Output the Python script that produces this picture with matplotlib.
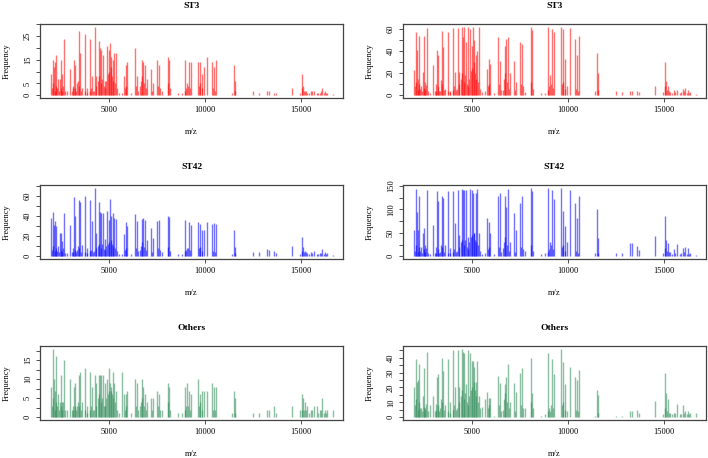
import matplotlib
matplotlib.use("Agg")
import matplotlib.pyplot as plt
import numpy as np

plt.rcParams['font.family'] = ['Liberation Serif', 'DejaVu Serif']

# ---- data: shared peak positions (m/z) ----
mz_major = [2014, 2083, 2153, 2205, 2274, 2344, 2448, 2517, 2587, 2656,
            2830, 2986, 3125, 3195, 3264, 3351, 3438, 3490, 3611, 3785,
            3889, 4045, 4132, 4306, 4358, 4479, 4549, 4618, 4688, 4826,
            4913, 4983, 5052, 5122, 5208, 5278, 5365, 5538, 5694, 5781,
            5868, 5955, 6128, 6354, 6476, 6597, 6719, 6788, 6875, 6962,
            7170, 7309, 7517, 7604, 7778, 8055, 8125, 8594, 8819, 8976,
            9080, 9184, 9271, 9653, 9722, 9826, 9948, 10121, 10364, 10451,
            10590, 11423, 11510, 11562, 12500, 12812, 13229, 13333, 13576, 13680,
            14548, 14947, 15034, 15103, 15190, 15329, 15503, 15677, 15850, 15989,
            16110, 16232, 16371, 16666]

mz_minor = [2040, 2120, 2180, 2240, 2310, 2400, 2490, 2560, 2620, 2720,
            3060, 3160, 3230, 3310, 3400, 3470, 3560, 3740, 3840,
            4000, 4090, 4180, 4250, 4340, 4420, 4510, 4580, 4650, 4730,
            4790, 4870, 4950, 5020, 5090, 5160, 5240, 5320, 5420,
            5820, 5910,
            6400, 6520, 6680, 6750, 6830, 6920,
            7220, 7560, 7650,
            8080, 8160,
            8950, 9030, 9130, 9230,
            9680, 9760, 9860,
            10400, 10530,
            11540,
            15070, 15150, 15260, 15420, 15590, 15900, 16060, 16180, 16300]

# ---- ST3 ----
st3_left_major = [9, 15, 12, 14, 17, 7, 7, 15, 9, 24,
                  2, 11, 3, 15, 13, 5, 27, 18, 3, 26,
                  3, 24, 8, 29, 8, 23, 20, 19, 17, 6,
                  21, 19, 22, 16, 15, 18, 18, 1, 1, 8,
                  13, 14, 1, 20, 8, 4, 15, 14, 13, 7,
                  11, 5, 15, 13, 2, 16, 15, 1, 1, 15,
                  5, 14, 14, 14, 14, 9, 12, 16, 14, 12,
                  15, 1, 13, 6, 2, 1, 2, 2, 1, 1,
                  3, 1, 9, 4, 2, 1, 2, 2, 1, 1,
                  3, 2, 1, 0.5]
st3_left_minor = [3, 5, 2, 4, 3, 2, 3, 2, 4, 2,
                  2, 4, 3, 2, 6, 4, 2, 2, 1,
                  2, 3, 2, 2, 4, 6, 8, 5, 7, 4,
                  3, 6, 9, 10, 12, 8, 6, 5, 3,
                  3, 4,
                  4, 2, 6, 8, 5, 3,
                  2, 4, 3,
                  5, 3,
                  2, 3, 4, 3,
                  4, 5, 3,
                  3, 2,
                  2,
                  3, 2, 2, 1, 2, 1, 2, 1, 1]
st3_right_major = [23, 57, 41, 15, 54, 8, 21, 54, 12, 61,
                   2, 27, 4, 41, 36, 4, 58, 44, 6, 57,
                   4, 61, 21, 61, 21, 62, 53, 62, 48, 62,
                   60, 45, 62, 50, 36, 40, 62, 3, 4, 24,
                   33, 28, 2, 53, 31, 5, 45, 51, 53, 20,
                   31, 12, 48, 46, 3, 62, 59, 2, 2, 62,
                   18, 60, 57, 62, 60, 33, 8, 61, 51, 36,
                   54, 4, 38, 20, 4, 3, 4, 4, 4, 3,
                   8, 3, 30, 13, 8, 3, 5, 5, 2, 6,
                   7, 5, 3, 1]
st3_right_minor = [8, 12, 5, 10, 6, 4, 7, 5, 9, 4,
                   4, 10, 8, 4, 14, 10, 5, 4, 3,
                   5, 8, 5, 6, 10, 15, 20, 12, 18, 10,
                   8, 15, 22, 25, 30, 20, 15, 12, 6,
                   8, 10,
                   10, 5, 15, 20, 12, 6,
                   5, 10, 8,
                   12, 6,
                   5, 8, 10, 7,
                   10, 12, 6,
                   6, 4,
                   5,
                   8, 5, 4, 2, 3, 3, 4, 2, 2]

# ---- ST42 ----
st42_left_major = [38, 44, 31, 35, 30, 10, 23, 23, 15, 43,
                   3, 31, 4, 59, 40, 6, 56, 54, 11, 60,
                   8, 56, 35, 68, 23, 54, 44, 43, 43, 17,
                   45, 36, 57, 40, 43, 38, 37, 2, 2, 22,
                   34, 30, 2, 42, 35, 6, 37, 38, 36, 16,
                   28, 18, 35, 36, 4, 40, 39, 2, 2, 36,
                   8, 34, 31, 34, 32, 26, 26, 34, 32, 33,
                   32, 2, 26, 9, 4, 4, 7, 6, 5, 3,
                   10, 2, 19, 9, 5, 3, 4, 5, 2, 3,
                   7, 4, 3, 1]
st42_left_minor = [6, 10, 5, 8, 5, 4, 6, 4, 8, 3,
                   4, 8, 6, 4, 10, 8, 4, 4, 3,
                   5, 6, 4, 5, 8, 10, 12, 8, 12, 7,
                   6, 10, 12, 14, 16, 12, 10, 8, 5,
                   6, 8,
                   8, 5, 10, 14, 9, 6,
                   4, 8, 6,
                   9, 5,
                   5, 6, 8, 6,
                   8, 9, 5,
                   5, 4,
                   3,
                   5, 4, 4, 2, 3, 2, 3, 2, 2]
st42_right_major = [57, 144, 95, 56, 128, 20, 49, 60, 25, 141,
                    4, 67, 8, 139, 117, 10, 129, 125, 24, 139,
                    18, 139, 71, 142, 45, 144, 142, 142, 142, 40,
                    144, 142, 135, 50, 135, 144, 49, 5, 8, 81,
                    72, 49, 5, 128, 135, 18, 128, 106, 144, 30,
                    92, 56, 114, 128, 12, 146, 140, 5, 8, 146,
                    31, 142, 121, 146, 96, 64, 30, 142, 114, 81,
                    128, 6, 101, 38, 8, 6, 28, 28, 21, 13,
                    44, 8, 85, 34, 28, 10, 15, 27, 5, 18,
                    20, 18, 8, 3]
st42_right_minor = [12, 25, 10, 20, 12, 8, 15, 10, 18, 8,
                    8, 20, 15, 8, 25, 20, 10, 8, 6,
                    10, 15, 10, 12, 20, 30, 35, 25, 35, 20,
                    15, 30, 40, 45, 50, 35, 30, 25, 12,
                    15, 20,
                    20, 10, 30, 40, 25, 12,
                    10, 20, 15,
                    25, 12,
                    10, 15, 25, 15,
                    20, 25, 12,
                    12, 8,
                    6,
                    18, 12, 10, 5, 8, 6, 10, 5, 4]

# ---- Others ----
oth_left_major = [8, 18, 10, 7, 16, 6, 4, 11, 4, 15,
                  2, 10, 2, 8, 9, 3, 11, 12, 4, 13,
                  3, 12, 8, 11, 9, 11, 11, 11, 11, 9,
                  10, 13, 9, 7, 12, 9, 7, 1, 12, 6,
                  6, 7, 1, 10, 9, 3, 10, 8, 6, 4,
                  5, 5, 7, 6, 2, 9, 8, 1, 1, 8,
                  9, 7, 6, 10, 6, 7, 7, 7, 9, 8,
                  8, 1, 7, 5, 1, 1, 2, 2, 3, 1,
                  3, 2, 6, 5, 4, 3, 2, 3, 3, 2,
                  5, 2, 2, 2]
oth_left_minor = [3, 5, 2, 4, 3, 2, 3, 2, 4, 2,
                  2, 3, 3, 2, 4, 3, 2, 2, 1,
                  2, 3, 2, 2, 3, 5, 6, 4, 5, 3,
                  3, 5, 6, 7, 8, 6, 5, 4, 2,
                  2, 3,
                  3, 2, 4, 5, 3, 2,
                  2, 3, 2,
                  4, 2,
                  2, 3, 3, 2,
                  3, 4, 2,
                  2, 2,
                  1,
                  2, 2, 2, 1, 2, 1, 2, 1, 1]
oth_right_major = [20, 39, 24, 25, 36, 6, 14, 33, 6, 44,
                   8, 14, 5, 27, 29, 6, 40, 31, 8, 39,
                   10, 45, 20, 45, 20, 46, 44, 43, 22, 45,
                   43, 38, 38, 34, 24, 38, 14, 7, 12, 17,
                   13, 13, 1, 28, 23, 5, 22, 27, 36, 10,
                   23, 17, 30, 33, 6, 40, 16, 1, 2, 43,
                   4, 39, 29, 46, 37, 22, 4, 34, 27, 25,
                   32, 1, 18, 15, 1, 1, 4, 4, 5, 3,
                   11, 2, 30, 16, 12, 3, 3, 9, 2, 8,
                   4, 4, 3, 3]
oth_right_minor = [8, 12, 5, 10, 6, 4, 7, 5, 9, 4,
                   4, 9, 8, 4, 12, 10, 5, 4, 3,
                   5, 8, 5, 6, 10, 14, 18, 12, 16, 10,
                   8, 14, 18, 20, 24, 18, 14, 10, 6,
                   6, 8,
                   8, 4, 12, 16, 10, 6,
                   4, 8, 6,
                   10, 6,
                   4, 6, 8, 6,
                   8, 10, 5,
                   5, 4,
                   3,
                   6, 4, 3, 2, 3, 2, 3, 2, 2]

titles = ["ST3", "ST3", "ST42", "ST42", "Others", "Others"]
panel_major = [st3_left_major, st3_right_major, st42_left_major,
               st42_right_major, oth_left_major, oth_right_major]
panel_minor = [st3_left_minor, st3_right_minor, st42_left_minor,
               st42_right_minor, oth_left_minor, oth_right_minor]
colors = ["#FF0000", "#FF0000", "#0000FF", "#0000FF", "#2E8B57", "#2E8B57"]
ytick_step = [5, 10, 10, 25, 2.5, 5]
ylabel_show = [[0, 5, 15, 25], [0, 20, 40, 60], [0, 20, 40, 60],
               [0, 50, 100, 150], [0, 5, 10, 15], [0, 10, 20, 30, 40]]
xticks = [5000, 10000, 15000]

W, H = 708, 458
fig = plt.figure(figsize=(W / 100, H / 100), dpi=100)

col_left = [40, 403]
ax_w = 303
row_top = [24, 185, 346]
ax_h = 74

for i in range(6):
    r, c = divmod(i, 2)
    x0 = col_left[c]
    y0 = row_top[r]
    ax = fig.add_axes([x0 / W, 1 - (y0 + ax_h) / H, ax_w / W, ax_h / H])
    x = np.array(mz_major + mz_minor, dtype=float)
    h = np.array(panel_major[i] + panel_minor[i], dtype=float)
    ax.vlines(x, 0, h, colors=colors[i], alpha=0.55, lw=1.0)
    ymax = max(h)
    ax.set_ylim(-0.04 * ymax, 1.04 * ymax)
    ax.set_xlim(1420, 17180)
    ax.set_xticks(xticks)
    ax.set_xticklabels([str(t) for t in xticks])
    yt = np.arange(0, 1.04 * ymax + 1e-9, ytick_step[i])
    ax.set_yticks(yt)
    ax.set_yticklabels([("%g" % v) if v in ylabel_show[i] else "" for v in yt])
    ax.tick_params(axis='both', length=3, width=0.6, colors='#333333',
                   labelcolor='black', labelsize=6, direction='out')
    ax.tick_params(axis='x', pad=3.0)
    ax.tick_params(axis='y', pad=2.8)
    for lab in ax.get_yticklabels():
        lab.set_rotation(90)
        lab.set_va('center')
    for sp in ax.spines.values():
        sp.set_color('#444444')
        sp.set_linewidth(0.9)
    ax.text(0.5, 1 + 18 / ax_h, titles[i], transform=ax.transAxes,
            ha='center', va='center', fontsize=6.8, fontweight='bold')
    ax.text(0.5, -33.7 / ax_h, "m/z", transform=ax.transAxes,
            ha='center', va='center', fontsize=6)
    ax.text(-33.5 / ax_w, 0.5, "Frequency", transform=ax.transAxes,
            ha='center', va='center', fontsize=6, rotation=90)

fig.savefig("out.png", dpi=100)
